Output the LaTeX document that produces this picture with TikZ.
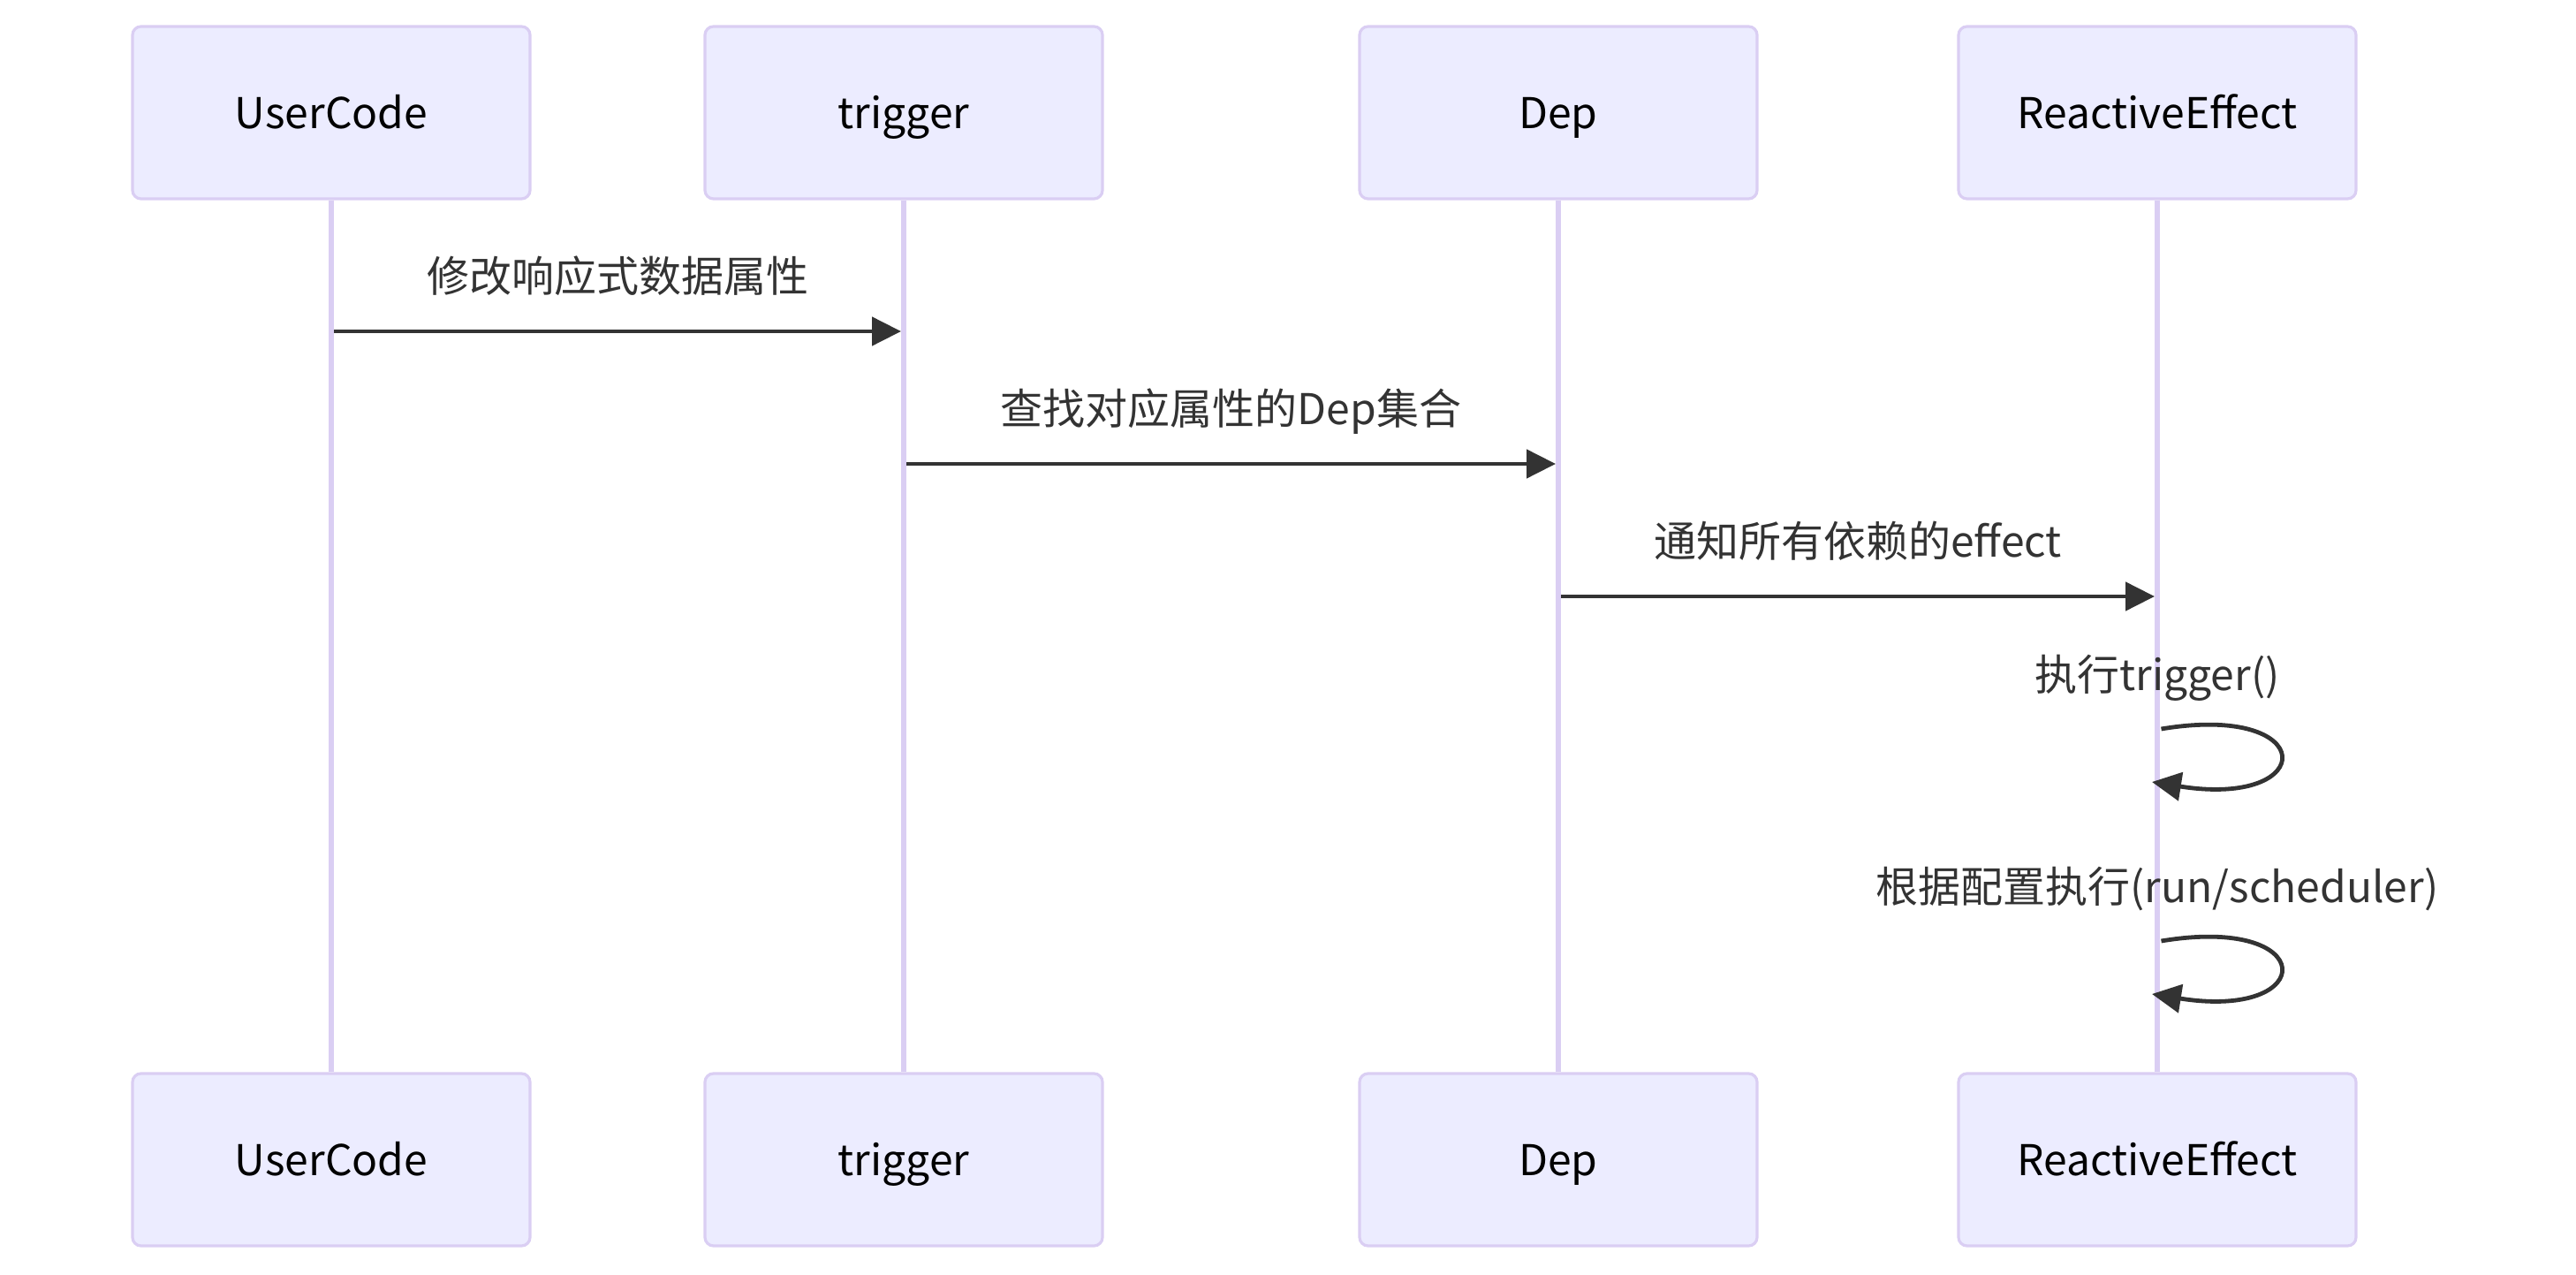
\documentclass[tikz,border=0pt]{standalone}
\usepackage{fontspec}
\setmainfont{Noto Sans CJK SC}
\usetikzlibrary{arrows.meta}

\definecolor{actfill}{HTML}{ECECFF}
\definecolor{actline}{HTML}{DACEF3}
\definecolor{msgcol}{HTML}{333333}

\begin{document}
\begin{tikzpicture}[x=0.75pt, y=-0.75pt,
    actor/.style={draw=actline, fill=actfill, line width=0.8pt,
      rounded corners=2.4pt, minimum width=112.5pt, minimum height=48.75pt,
      font=\fontsize{12pt}{14pt}\selectfont, text=black,
      text height=0.95em, text depth=0.05em},
    lifeline/.style={draw=actline, line width=1.4pt},
    msg/.style={draw=msgcol, line width=1.2pt,
      -{Triangle[length=8.25pt, width=8pt]}},
    msglabel/.style={text=msgcol, inner sep=0pt,
      font=\fontsize{12pt}{14pt}\selectfont,
      text height=0.88em, text depth=0.12em}]

  \useasboundingbox (0,0) rectangle (972,481);

  \node[actor] (userT) at (125,42.5) {UserCode};
  \node[actor] (trigT) at (341,42.5) {trigger};
  \node[actor] (depT)  at (588,42.5) {Dep};
  \node[actor] (effT)  at (814,42.5) {ReactiveEffect};

  \node[actor] (userB) at (125,437.5) {UserCode};
  \node[actor] (trigB) at (341,437.5) {trigger};
  \node[actor] (depB)  at (588,437.5) {Dep};
  \node[actor] (effB)  at (814,437.5) {ReactiveEffect};

  \draw [lifeline] (userT) -- (userB);
  \draw [lifeline] (trigT) -- (trigB);
  \draw [lifeline] (depT)  -- (depB);
  \draw [lifeline] (effT)  -- (effB);

  \coordinate (m1a) at (126,125);
  \coordinate (m1b) at (340,125);
  \coordinate (m2a) at (342,175);
  \coordinate (m2b) at (587,175);
  \coordinate (m3a) at (589,225);
  \coordinate (m3b) at (813,225);
  \coordinate (s1a) at (815.5,275);
  \coordinate (s1b) at (812,295);
  \coordinate (s2a) at (815.5,355);
  \coordinate (s2b) at (812,375);

  \node[msglabel] (l1) at (233,105)   {修改响应式数据属性};
  \node[msglabel] (l2) at (464.5,155) {查找对应属性的Dep集合};
  \node[msglabel] (l3) at (701,205)   {通知所有依赖的effect};
  \node[msglabel] (l4) at (814,255.5) {执行trigger()};
  \node[msglabel] (l5) at (814,335.5) {根据配置执行(run/scheduler)};

  \draw [msg] (m1a) -- (m1b);
  \draw [msg] (m2a) -- (m2b);
  \draw [msg] (m3a) -- (m3b);
  \draw [msg] (s1a) .. controls +(60,-10) and +(63,10) .. (s1b);
  \draw [msg] (s2a) .. controls +(60,-10) and +(63,10) .. (s2b);

\end{tikzpicture}
\end{document}
